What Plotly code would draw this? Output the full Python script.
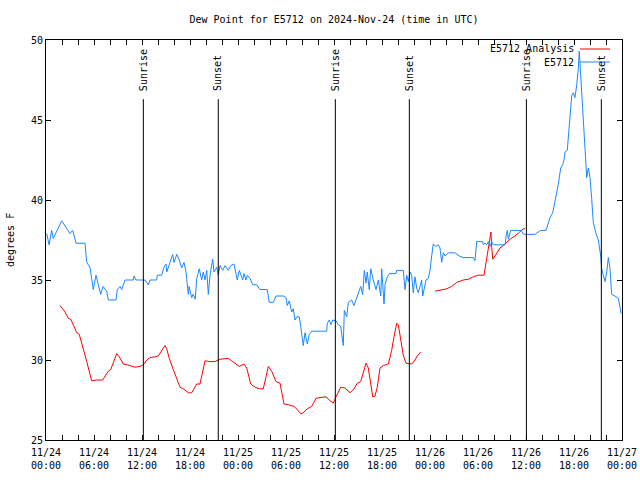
import pandas as pd
import plotly.graph_objects as go

START = pd.Timestamp("2024-11-24 00:00")

# E5712 observations: hours since 2024-11-24 00:00 UTC, dew point (F)
obs_hours = [0.09, 0.38, 0.71, 0.91, 1.96, 3.0, 3.34, 3.75, 4.88, 5.09,
             5.5, 5.91, 6.25, 6.54, 6.84, 7.13, 7.59, 7.79, 8.75, 8.91,
             9.25, 9.46, 9.88, 10.91, 11.0, 11.25, 12.38, 12.79, 13.0, 13.84,
             13.91, 14.46, 14.75, 15.0, 15.09, 15.5, 15.84, 16.0, 16.34, 16.66,
             16.96, 17.25, 17.5, 17.79, 17.88, 18.21, 18.38, 18.66, 18.84, 19.16,
             19.46, 19.66, 19.88, 20.09, 20.29, 20.5, 20.84, 21.0, 21.34, 21.54,
             21.75, 22.09, 22.38, 22.79, 23.09, 23.5, 23.91, 24.16, 24.59, 24.75,
             25.0, 25.16, 25.5, 25.84, 26.34, 26.75, 27.66, 27.91, 28.41, 28.75,
             29.75, 30.0, 30.16, 30.41, 30.71, 30.91, 31.12, 31.34, 31.66, 31.84,
             32.16, 32.38, 32.66, 32.91, 33.21, 33.41, 35.09, 35.16, 35.41, 35.62,
             35.84, 36.25, 36.54, 36.84, 37.16, 37.29, 37.59, 37.79, 38.21, 38.5,
             38.75, 39.04, 39.34, 39.59, 39.79, 40.0, 40.16, 40.41, 40.59, 40.91,
             41.25, 41.54, 41.84, 41.96, 42.25, 42.38, 42.66, 42.91, 43.75, 43.84,
             44.66, 44.88, 45.09, 45.29, 45.5, 45.71, 45.91, 46.12, 46.34, 46.54,
             46.75, 46.96, 47.09, 47.25, 47.5, 47.79, 48.0, 48.21, 48.41, 48.75,
             49.04, 49.25, 49.46, 49.66, 49.88, 50.29, 51.12, 51.66, 52.16, 53.41,
             53.62, 53.84, 54.59, 54.66, 54.88, 55.09, 55.29, 55.5, 55.71, 55.91,
             57.38, 57.5, 57.66, 57.79, 58.09, 59.46, 59.59, 59.88, 61.12, 61.54,
             61.84, 62.5, 62.66, 63.0, 63.34, 63.62, 64.04, 64.34, 64.59, 64.75,
             64.88, 65.16, 65.41, 65.71, 65.91, 66.12, 66.34, 66.54, 66.66, 66.84,
             67.0, 67.25, 67.41, 67.59, 67.79, 68.0, 68.21, 68.41, 68.75, 69.04,
             69.34, 69.46, 69.66, 69.88, 70.09, 70.29, 70.5, 70.71, 71.12, 71.54,
             71.75, 71.88]
obs_values = [37.9, 37.2, 38.1, 37.6, 38.7, 37.9, 38.1, 37.3, 37.3, 36.1,
              35.8, 34.4, 35.3, 34.6, 34.1, 34.6, 34.3, 33.75, 33.75, 34.4,
              34.6, 34.4, 35.0, 35.0, 35.25, 35.0, 35.0, 34.7, 35.0, 35.0,
              35.3, 35.3, 35.8, 36.0, 35.5, 36.1, 36.6, 36.1, 36.6, 36.25,
              35.75, 36.1, 35.5, 34.1, 34.6, 33.9, 34.1, 33.8, 35.1, 35.7,
              35.0, 35.5, 35.0, 35.6, 34.1, 35.3, 36.3, 35.5, 35.8, 35.3,
              35.9, 35.6, 35.9, 35.6, 35.9, 36.0, 35.0, 35.6, 35.0, 35.4,
              35.0, 35.3, 35.1, 34.7, 34.7, 34.4, 34.4, 33.6, 33.6, 34.0,
              34.0, 33.9, 33.4, 33.7, 33.0, 33.2, 32.5, 32.7, 32.7, 32.1,
              30.9, 31.7, 31.0, 31.6, 31.8, 31.8, 31.8, 32.3, 32.5, 32.2,
              32.5, 32.45, 32.2, 32.1, 30.9, 33.1, 32.7, 33.6, 33.75, 33.4,
              33.75, 34.2, 34.6, 34.1, 35.6, 34.8, 35.5, 34.4, 35.7, 35.0,
              34.4, 35.0, 34.0, 35.7, 33.5, 34.7, 35.2, 35.4, 35.4, 35.6,
              35.6, 34.4, 35.3, 34.9, 35.5, 35.3, 34.2, 35.2, 34.5, 34.2,
              34.6, 35.0, 34.0, 34.4, 35.0, 35.1, 35.6, 36.5, 37.25, 37.1,
              37.2, 37.0, 36.1, 36.7, 36.5, 36.7, 36.7, 36.5, 36.4, 36.4,
              36.2, 37.4, 37.4, 37.2, 37.3, 37.2, 37.4, 37.1, 37.4, 37.2,
              37.2, 37.7, 38.1, 37.55, 38.1, 38.1, 37.9, 37.85, 37.85, 38.0,
              38.1, 38.1, 38.4, 38.9, 39.2, 39.9, 41.0, 42.0, 42.2, 42.5,
              43.0, 43.1, 44.7, 46.5, 46.7, 46.4, 47.2, 48.2, 49.3, 47.8,
              45.8, 44.1, 42.8, 41.4, 42.0, 41.4, 40.1, 38.6, 37.9, 37.5,
              36.5, 35.7, 35.3, 34.9, 35.5, 36.4, 35.7, 34.1, 34.0, 33.85,
              33.3, 32.9]

# E5712 Analysis: hours since 2024-11-24 00:00 UTC, dew point (F); None marks the data gap
ana_hours = [1.75, 2.38, 2.79, 3.09, 3.41, 3.84, 4.16, 4.66, 5.09, 5.71,
             6.34, 7.09, 7.38, 7.79, 8.09, 8.5, 8.84, 9.16, 9.66, 10.16,
             10.71, 11.12, 11.75, 12.16, 12.59, 13.0, 13.62, 14.04, 14.34, 14.88,
             15.09, 15.41, 15.84, 16.34, 16.75, 17.16, 17.79, 18.21, 18.5, 18.84,
             19.25, 19.59, 19.88, 20.5, 21.12, 21.75, 22.38, 22.79, 23.21, 23.62,
             24.16, 24.75, 25.09, 25.59, 26.12, 26.66, 27.16, 27.5, 27.79, 28.21,
             28.75, 29.25, 29.75, 30.29, 31.0, 31.41, 31.84, 32.16, 32.66, 33.21,
             33.75, 34.25, 35.0, 35.41, 35.91, 36.25, 36.84, 37.38, 38.0, 38.5,
             38.91, 39.34, 39.66, 40.0, 40.29, 40.59, 40.84, 41.12, 41.41, 41.75,
             42.16, 42.79, 43.21, 43.5, 43.84, 44.04, 44.34, 44.66, 45.0, 45.71,
             46.12, 46.41, 46.84, 47.7, 48.62, 49.46, 50.09, 50.71, 51.34, 52.16,
             52.79, 53.41, 54.04, 54.75, 55.0, 55.16, 55.41, 55.5, 55.62, 55.71,
             55.84, 56.25, 56.75, 57.38, 58.0, 58.62, 59.25, 59.66, 59.88]
ana_values = [33.4, 33.0, 32.6, 32.55, 32.2, 31.7, 31.6, 30.6, 29.9, 28.7,
              28.75, 28.75, 29.0, 29.3, 29.4, 30.0, 30.4, 30.2, 29.75, 29.7,
              29.6, 29.55, 29.6, 29.7, 30.0, 30.15, 30.2, 30.25, 30.5, 30.9,
              30.7, 30.1, 29.5, 28.9, 28.3, 28.2, 27.95, 27.95, 28.2, 28.5,
              28.5, 29.4, 29.95, 29.9, 29.9, 30.05, 30.1, 30.1, 29.95, 29.8,
              29.6, 29.75, 29.5, 28.5, 28.3, 28.2, 28.2, 28.95, 29.6, 29.3,
              28.65, 28.55, 27.25, 27.2, 27.1, 26.9, 26.65, 26.7, 26.95, 27.1,
              27.6, 27.65, 27.7, 27.5, 27.3, 27.7, 28.3, 28.25, 27.95, 28.2,
              28.55, 28.65, 29.2, 29.8, 29.5, 28.5, 27.7, 27.75, 28.3, 29.5,
              29.65, 29.75, 30.6, 31.45, 32.3, 32.2, 31.25, 30.3, 29.8, 29.75,
              30.0, 30.25, 30.5, None, 34.3, 34.4, 34.45, 34.6, 34.85, 35.0,
              35.05, 35.2, 35.3, 35.3, 36.0, 36.6, 37.2, 37.6, 38.0, 37.1,
              36.3, 36.6, 37.0, 37.25, 37.55, 37.75, 38.0, 38.2, 38.2]

# Sunrise / sunset events (UTC)
sun_times = ["2024-11-24 12:10", "2024-11-24 21:32", "2024-11-25 12:10",
             "2024-11-25 21:25", "2024-11-26 12:03", "2024-11-26 21:25"]
sun_labels = ["Sunrise", "Sunset", "Sunrise", "Sunset", "Sunrise", "Sunset"]

x_tick_labels = ["11/24<br>00:00", "11/24<br>06:00", "11/24<br>12:00", "11/24<br>18:00",
                 "11/25<br>00:00", "11/25<br>06:00", "11/25<br>12:00", "11/25<br>18:00",
                 "11/26<br>00:00", "11/26<br>06:00", "11/26<br>12:00", "11/26<br>18:00",
                 "11/27<br>00:00"]
y_ticks = [25, 30, 35, 40, 45, 50]


def to_time(h):
    return START + pd.Timedelta(hours=h)


obs_x = [to_time(h) for h in obs_hours]
ana_x = [to_time(h) for h in ana_hours]

FONT = "DejaVu Sans Mono"
RED = "#ff0000"
BLUE = "#1a88ff"

fig = go.Figure()
fig.add_trace(go.Scatter(x=ana_x, y=ana_values, mode="lines", name="E5712 Analysis",
                         line=dict(color=RED, width=1), connectgaps=False))
fig.add_trace(go.Scatter(x=obs_x, y=obs_values, mode="lines", name="E5712",
                         line=dict(color=BLUE, width=1)))

tickvals = []
ticktext = []
for i in range(37):
    tickvals.append(START + pd.Timedelta(hours=2 * i))
    ticktext.append(x_tick_labels[i // 3] if i % 3 == 0 else "")

shapes = []
annotations = []
for t, lab in zip(sun_times, sun_labels):
    shapes.append(dict(type="line", xref="x", yref="y", x0=t, x1=t, y0=25, y1=46.3,
                       line=dict(color="black", width=1)))
    annotations.append(dict(x=t, y=46.7, xref="x", yref="y", text=lab, textangle=-90,
                            showarrow=False, xanchor="center", yanchor="bottom",
                            font=dict(family=FONT, size=10, color="black")))

# legend (drawn manually: label left, sample line right)
leg = [("E5712 Analysis", RED, 49), ("E5712", BLUE, 62)]
for txt, col, py in leg:
    yp = (440 - py) / 400
    annotations.append(dict(x=(576 - 46) / 576, y=yp, xref="paper", yref="paper", text=txt,
                            showarrow=False, xanchor="right", yanchor="middle",
                            font=dict(family=FONT, size=10, color="black")))
    shapes.append(dict(type="line", xref="paper", yref="paper",
                       x0=(580 - 46) / 576, x1=(610 - 46) / 576, y0=yp, y1=yp,
                       line=dict(color=col, width=1)))

annotations.append(dict(x=-0.0625, y=0.5, xref="paper", yref="paper", text="degrees F",
                        textangle=-90, showarrow=False, xanchor="center", yanchor="middle",
                        font=dict(family=FONT, size=10, color="black")))

fig.update_layout(
    width=640, height=480,
    margin=dict(l=46, r=18, t=40, b=40, autoexpand=False),
    paper_bgcolor="white", plot_bgcolor="white",
    showlegend=False,
    title=dict(text="Dew Point for E5712 on 2024-Nov-24 (time in UTC)", x=0.5, xref="paper",
               y=1 - 19 / 480, yanchor="middle",
               font=dict(family=FONT, size=10, color="black")),
    font=dict(family=FONT, size=10, color="black"),
    shapes=shapes,
    annotations=annotations,
)
fig.update_xaxes(range=[START, START + pd.Timedelta(hours=72)], tickmode="array",
                 tickvals=tickvals, ticktext=ticktext, ticks="inside", ticklen=5,
                 tickcolor="black", showline=True, linecolor="black", linewidth=1,
                 mirror="ticks", showgrid=False, zeroline=False, automargin=False,
                 ticklabelstandoff=3,
                 tickfont=dict(family=FONT, size=10, color="black"))
fig.update_yaxes(range=[25, 50], tickmode="array", tickvals=y_ticks,
                 ticktext=[str(v) for v in y_ticks], ticks="inside", ticklen=5,
                 tickcolor="black", showline=True, linecolor="black", linewidth=1,
                 mirror="ticks", showgrid=False, zeroline=False, automargin=False,
                 tickfont=dict(family=FONT, size=10, color="black"))

# remove the default page margin so the 640x480 figure fills the window exactly
fig.write_html("out.html",
               config={"displayModeBar": False},
               post_script="document.body.style.margin='0';"
                           "document.body.style.overflow='hidden';")
